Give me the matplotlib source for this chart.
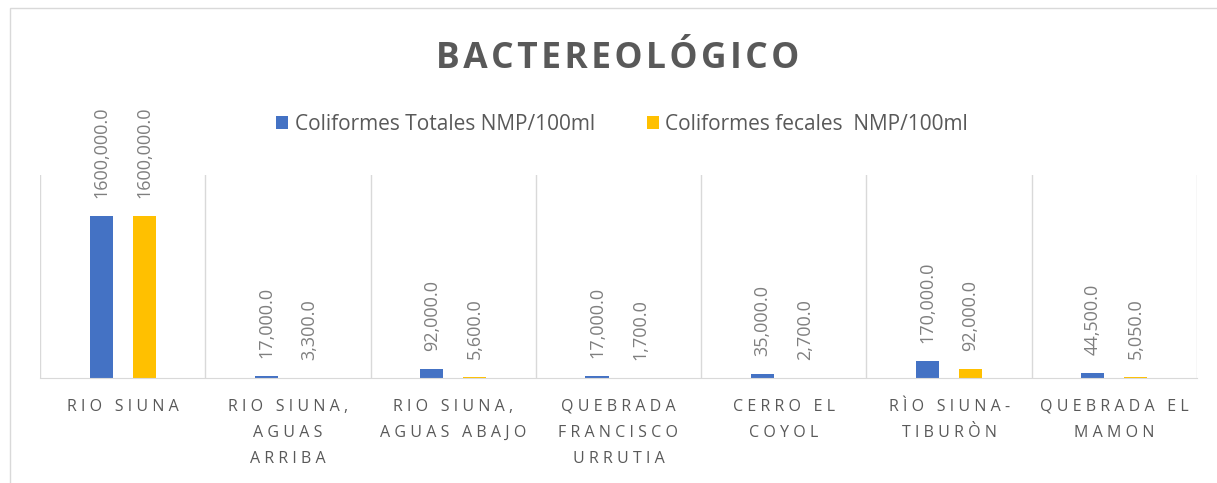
import numpy as np
import matplotlib.pyplot as plt
from matplotlib.patches import Rectangle

plt.rcParams['font.family'] = ['Open Sans', 'DejaVu Sans']

categories = ['RIO SIUNA', 'RIO SIUNA,\nAGUAS\nARRIBA', 'RIO SIUNA,\nAGUAS ABAJO',
              'QUEBRADA\nFRANCISCO\nURRUTIA', 'CERRO EL\nCOYOL', 'RÌO SIUNA-\nTIBURÒN',
              'QUEBRADA EL\nMAMON']
totales = [1600000, 17000, 92000, 17000, 35000, 170000, 44500]
fecales = [1600000, 3300, 5600, 1700, 2700, 92000, 5050]
series_names = ['Coliformes Totales NMP/100ml', 'Coliformes fecales  NMP/100ml']
colors = ['#4472C4', '#FFC000']
title = 'BACTEREOLÓGICO'

TXT = '#595959'
W, H = 1217, 483


def spaced(s, sep='\u2009'):
    # fake letter spacing, line by line
    return '\n'.join(sep.join(line) for line in s.split('\n'))


def fmt(v):
    # the sheet shows the first value as "1600,000.0"
    if v >= 1000000:
        return f'{v // 1000}' + ',' + f'{v % 1000:03d}.0'
    return f'{v:,.1f}'


fig = plt.figure(figsize=(W / 100, H / 100), dpi=100)
fig.patches.append(Rectangle((10 / W, -0.1), 1.2, 1 - 8 / H + 0.1,
                             transform=fig.transFigure, fill=False,
                             edgecolor='#d9d9d9', linewidth=1))

ax = fig.add_axes([40 / W, 1 - 378 / H, (1197 - 40) / W, (378 - 175) / H])
x = np.arange(len(categories))
bw = 0.14
off = 0.13
b1 = ax.bar(x - off, totales, bw, color=colors[0], label=series_names[0])
b2 = ax.bar(x + off, fecales, bw, color=colors[1], label=series_names[1])

for bars, vals in [(b1, totales), (b2, fecales)]:
    for rect, v in zip(bars, vals):
        ax.annotate(fmt(v),
                    (rect.get_x() + rect.get_width() / 2, rect.get_height()),
                    xytext=(0, 13), textcoords='offset points', rotation=90,
                    ha='center', va='bottom', color='#7f7f7f', fontsize=13)

ax.set_xlim(-0.5, len(categories) - 0.5)
ax.set_ylim(0, 2000000)
for b in np.arange(-0.5, len(categories), 1.0):
    ax.axvline(b, color='#d9d9d9', linewidth=1, zorder=0)
for s in ['top', 'right', 'left']:
    ax.spines[s].set_visible(False)
ax.spines['bottom'].set_color('#d9d9d9')
ax.set_yticks([])
ax.set_xticks(x)
ax.set_xticklabels([spaced(c, '\u2009\u200a') for c in categories], color=TXT,
                   fontsize=11.5, linespacing=1.84)
ax.tick_params(axis='x', length=0, pad=15)

fig.text(618 / W, 1 - 59 / H, spaced(title, '\u200a'), ha='center', va='center',
         fontsize=25.5, fontweight='bold', color=TXT)

leg = fig.legend(handles=[b1, b2], loc='center', bbox_to_anchor=(622 / W, 1 - 124 / H),
                 ncol=2, frameon=False, fontsize=15, handlelength=0.6,
                 handleheight=0.6, handletextpad=0.3, columnspacing=2.5)
for t in leg.get_texts():
    t.set_color(TXT)

fig.savefig('out.png', dpi=100)
